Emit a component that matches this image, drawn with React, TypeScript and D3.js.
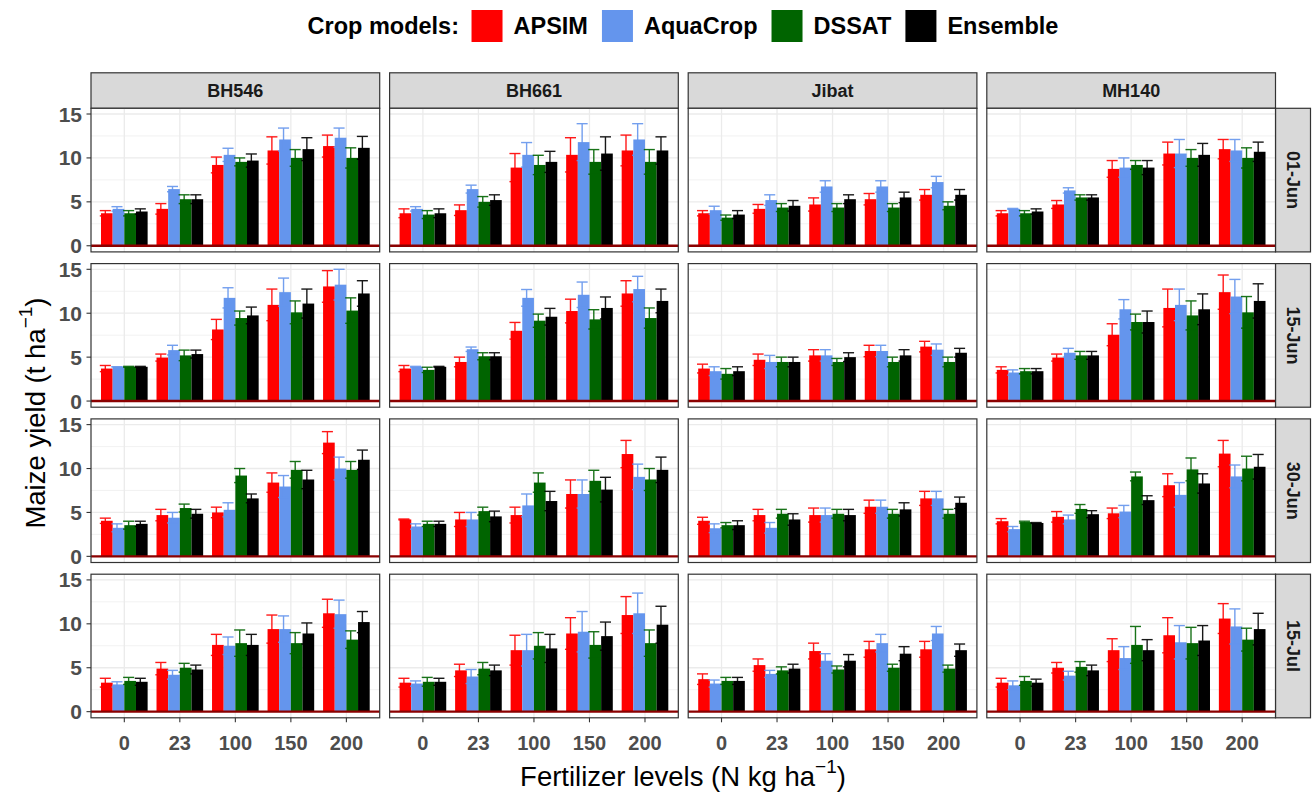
import React from 'react';
import * as d3 from 'd3';

const cultivars = ['BH546', 'BH661', 'Jibat', 'MH140'];
const sowingDates = ['01-Jun', '15-Jun', '30-Jun', '15-Jul'];
const fertLevels = ['0', '23', '100', '150', '200'];
const models = ['APSIM', 'AquaCrop', 'DSSAT', 'Ensemble'];
const modelColors = ['#FF0000', '#6495ED', '#006400', '#000000'];
const yTicks = [0, 5, 10, 15];
const yMinor = [2.5, 7.5, 12.5];

// mean yield [cultivar][fertilizer][model]
const meanJun01 = [
  [[3.7, 4.2, 3.7, 3.9], [4.2, 6.45, 5.3, 5.3], [9.2, 10.35, 9.55, 9.7], [10.85, 12.1, 10.0, 11.0], [11.35, 12.3, 10.0, 11.15]],
  [[3.7, 4.2, 3.55, 3.7], [4.05, 6.45, 5.0, 5.2], [8.9, 10.35, 9.2, 9.55], [10.35, 11.8, 9.55, 10.5], [10.85, 12.1, 9.55, 10.85]],
  [[3.7, 4.05, 3.2, 3.55], [4.2, 5.2, 4.35, 4.55], [4.7, 6.75, 4.35, 5.3], [5.3, 6.75, 4.35, 5.5], [5.8, 7.25, 4.55, 5.8]],
  [[3.7, 4.2, 3.7, 3.9], [4.7, 6.3, 5.5, 5.5], [8.75, 8.9, 9.2, 8.9], [10.5, 10.5, 10.0, 10.35], [11.0, 10.85, 10.0, 10.7]],
];
const errJun01 = [
  [[0.3, 0.25, 0.3, 0.3], [0.6, 0.3, 0.5, 0.5], [0.9, 0.75, 0.45, 0.75], [1.55, 1.3, 0.95, 1.3], [1.25, 1.1, 1.15, 1.3]],
  [[0.5, 0.25, 0.45, 0.5], [0.6, 0.45, 0.6, 0.6], [1.6, 1.4, 1.1, 1.2], [1.95, 2.1, 1.4, 1.9], [1.75, 1.8, 1.4, 1.55]],
  [[0.3, 0.45, 0.3, 0.45], [0.5, 0.6, 0.45, 0.6], [0.75, 0.65, 0.45, 0.5], [0.65, 0.65, 0.45, 0.6], [0.6, 0.65, 0.45, 0.6]],
  [[0.3, 0.05, 0.3, 0.3], [0.45, 0.3, 0.3, 0.3], [0.95, 1.1, 0.5, 0.8], [1.3, 1.6, 0.95, 1.3], [1.1, 1.25, 1.15, 1.1]],
];

const meanJun15 = [
  [[3.7, 3.9, 3.9, 3.9], [4.95, 5.8, 5.2, 5.35], [8.15, 11.75, 9.45, 9.75], [10.95, 12.4, 10.1, 11.1], [13.05, 13.25, 10.3, 12.25]],
  [[3.7, 3.9, 3.55, 3.9], [4.45, 5.9, 5.1, 5.1], [8.0, 11.75, 9.15, 9.6], [10.25, 12.1, 9.3, 10.6], [12.25, 12.75, 9.45, 11.4]],
  [[3.7, 3.4, 3.1, 3.4], [4.7, 4.45, 4.45, 4.45], [5.2, 5.2, 4.45, 5.0], [5.7, 5.7, 4.45, 5.2], [6.2, 5.85, 4.45, 5.5]],
  [[3.55, 3.25, 3.4, 3.4], [4.95, 5.5, 5.2, 5.2], [7.55, 10.45, 9.0, 9.0], [10.6, 10.95, 9.75, 10.45], [12.4, 11.9, 10.1, 11.4]],
];
const errJun15 = [
  [[0.35, 0.0, 0.05, 0.05], [0.4, 0.55, 0.6, 0.45], [1.15, 1.15, 0.8, 0.95], [1.8, 1.6, 1.3, 1.65], [1.8, 1.75, 1.45, 1.45]],
  [[0.35, 0.05, 0.3, 0.05], [0.55, 0.25, 0.4, 0.4], [0.95, 0.95, 0.75, 0.95], [1.35, 1.45, 1.1, 1.25], [1.45, 1.45, 1.15, 1.35]],
  [[0.5, 0.5, 0.6, 0.5], [0.65, 0.75, 0.55, 0.55], [0.65, 0.65, 0.4, 0.5], [0.65, 0.65, 0.55, 0.65], [0.6, 0.65, 0.55, 0.5]],
  [[0.35, 0.3, 0.3, 0.3], [0.4, 0.5, 0.45, 0.45], [1.25, 1.1, 0.9, 1.25], [2.15, 1.8, 1.65, 1.75], [1.95, 1.95, 1.8, 1.95]],
];

const meanJun30 = [
  [[4.05, 3.25, 3.55, 3.7], [4.7, 4.4, 5.5, 4.85], [5.0, 5.3, 9.2, 6.6], [8.4, 7.95, 9.85, 8.75], [12.95, 10.0, 9.85, 11.0]],
  [[4.2, 3.4, 3.7, 3.7], [4.2, 4.2, 5.15, 4.55], [4.7, 5.8, 8.4, 6.3], [7.1, 7.1, 8.6, 7.6], [11.65, 9.05, 8.75, 9.85]],
  [[4.05, 3.2, 3.55, 3.55], [4.7, 3.25, 4.85, 4.2], [4.7, 4.7, 4.85, 4.7], [5.65, 5.65, 4.85, 5.35], [6.6, 6.6, 4.85, 6.1]],
  [[4.0, 3.1, 3.9, 3.8], [4.5, 4.2, 5.4, 4.8], [4.9, 5.1, 9.1, 6.4], [8.1, 7.0, 9.9, 8.3], [11.7, 9.1, 10.0, 10.2]],
];
const errJun30 = [
  [[0.3, 0.45, 0.45, 0.3], [0.65, 0.6, 0.45, 0.5], [0.6, 0.8, 0.8, 0.5], [1.1, 1.25, 0.95, 1.05], [1.25, 1.3, 0.95, 1.1]],
  [[0.05, 0.3, 0.3, 0.3], [0.8, 0.8, 0.45, 0.6], [0.9, 1.3, 1.1, 1.1], [1.6, 1.6, 1.2, 1.4], [1.55, 1.45, 1.25, 1.45]],
  [[0.4, 0.5, 0.3, 0.5], [0.65, 0.6, 0.5, 0.65], [0.8, 0.8, 0.5, 0.65], [0.75, 0.75, 0.5, 0.75], [0.8, 0.8, 0.5, 0.65]],
  [[0.3, 0.3, 0.1, 0.05], [0.6, 0.5, 0.5, 0.4], [0.6, 0.7, 0.5, 0.5], [1.3, 1.4, 1.3, 1.1], [1.5, 1.3, 1.4, 1.4]],
];

const meanJul15 = [
  [[3.3, 3.1, 3.5, 3.4], [4.9, 4.2, 5.0, 4.8], [7.6, 7.5, 7.8, 7.6], [9.4, 9.4, 7.8, 8.9], [11.2, 11.1, 8.2, 10.2]],
  [[3.3, 3.2, 3.4, 3.4], [4.7, 4.0, 4.9, 4.7], [7.0, 7.0, 7.5, 7.2], [8.9, 9.1, 7.6, 8.6], [11.0, 11.2, 7.8, 9.9]],
  [[3.7, 3.2, 3.5, 3.5], [5.3, 4.3, 4.7, 4.9], [6.9, 5.8, 4.8, 5.8], [7.1, 7.8, 5.0, 6.6], [7.1, 8.9, 4.9, 7.0]],
  [[3.3, 3.0, 3.5, 3.3], [5.0, 4.1, 5.1, 4.7], [7.0, 6.1, 7.6, 7.0], [8.7, 7.9, 7.8, 8.1], [10.6, 9.7, 8.2, 9.4]],
];
const errJul15 = [
  [[0.5, 0.3, 0.4, 0.4], [0.7, 0.5, 0.5, 0.5], [1.2, 1.0, 1.5, 1.2], [1.6, 1.5, 1.2, 1.2], [1.6, 1.6, 1.0, 1.2]],
  [[0.5, 0.3, 0.5, 0.4], [0.7, 0.8, 0.7, 0.6], [1.7, 1.8, 1.5, 1.6], [1.8, 2.3, 1.5, 1.6], [2.1, 2.3, 1.5, 2.1]],
  [[0.6, 0.4, 0.4, 0.4], [0.7, 0.4, 0.4, 0.5], [0.9, 0.8, 0.4, 0.7], [0.9, 1.0, 0.4, 0.8], [0.9, 0.8, 0.4, 0.7]],
  [[0.5, 0.5, 0.5, 0.4], [0.6, 0.5, 0.6, 0.6], [1.3, 1.3, 2.1, 1.2], [2.0, 1.9, 1.8, 1.7], [1.7, 2.0, 1.3, 1.8]],
];

const meansByDate = [meanJun01, meanJun15, meanJun30, meanJul15];
const errsByDate = [errJun01, errJun15, errJun30, errJul15];

const FONT = '"Liberation Sans", Arial, sans-serif';
const panelLeft = 91;
const panelW = 288.7;
const colStep = 298.6;
const panelTop = 108.3;
const panelH = 143.6;
const rowStep = 155.3;
const stripH = 35.5;
const rStripW = 35;
const legendFont = 23.5;

function measure(text: string, font: string): number {
  try {
    const ctx = document.createElement('canvas').getContext('2d');
    if (ctx) {
      ctx.font = font;
      return ctx.measureText(text).width;
    }
  } catch (e) {}
  return text.length * 13;
}

export default function App() {
  const x = d3.scalePoint<string>().domain(fertLevels).range([0, panelW]).padding(0.6);
  const step = x.step();
  const dodge = d3.scaleBand<string>().domain(models).range([-0.42 * step, 0.42 * step]);
  const bw = dodge.bandwidth();
  const y = d3.scaleLinear().domain([-0.7, 15.65]).range([panelH, 0]);

  // legend layout
  const lf = `bold ${legendFont}px "Liberation Sans"`;
  const title = 'Crop models:';
  const keyW = 31;
  const keyH = 32;
  const titleW = measure(title, lf);
  const labelWs = models.map((m) => measure(m, lf));
  const gapTitle = 12.5;
  const gapKeyLabel = 11;
  const gapItem = 14;
  let total = titleW + gapTitle;
  labelWs.forEach((w, i) => {
    total += keyW + gapKeyLabel + w + (i < models.length - 1 ? gapItem : 0);
  });
  const legendCenter = 683;
  let cursor = legendCenter - total / 2;
  const titleX = cursor;
  cursor += titleW + gapTitle;
  const items = models.map((m, i) => {
    const k = cursor;
    const l = k + keyW + gapKeyLabel;
    cursor = l + labelWs[i] + gapItem;
    return { key: k, label: l };
  });

  const lastRowBottom = panelTop + 3 * rowStep + panelH;

  return (
    <svg width={1314} height={796} style={{ position: 'absolute', left: 0, top: 0, background: '#fff' }} fontFamily={FONT}>
      <rect x={0} y={0} width={1314} height={796} fill="#fff" />
      {/* Legend */}
      <text x={titleX} y={26} fontSize={legendFont} fontWeight="bold" dominantBaseline="central" fill="#000">{title}</text>
      {models.map((m, i) => (
        <g key={m}>
          <rect x={items[i].key} y={26 - keyH / 2} width={keyW} height={keyH} fill={modelColors[i]} />
          <text x={items[i].label} y={26} fontSize={legendFont} fontWeight="bold" dominantBaseline="central" fill="#000">{m}</text>
        </g>
      ))}

      {/* Column strips */}
      {cultivars.map((c, ci) => {
        const px = panelLeft + ci * colStep;
        return (
          <g key={c}>
            <rect x={px} y={panelTop - stripH} width={panelW} height={stripH} fill="#D9D9D9" stroke="#333333" strokeWidth={1.2} />
            <text x={px + panelW / 2} y={panelTop - stripH / 2} fontSize={18} fontWeight="bold" fill="#1A1A1A" textAnchor="middle" dominantBaseline="central">{c}</text>
          </g>
        );
      })}

      {/* Row strips */}
      {sowingDates.map((d, ri) => {
        const py = panelTop + ri * rowStep;
        const sx = panelLeft + 3 * colStep + panelW;
        return (
          <g key={d}>
            <rect x={sx} y={py} width={rStripW} height={panelH} fill="#D9D9D9" stroke="#333333" strokeWidth={1.2} />
            <text transform={`translate(${sx + rStripW / 2},${py + panelH / 2}) rotate(90)`} fontSize={18} fontWeight="bold" fill="#1A1A1A" textAnchor="middle" dominantBaseline="central">{d}</text>
          </g>
        );
      })}

      {/* Panels */}
      {sowingDates.map((d, ri) =>
        cultivars.map((c, ci) => {
          const px = panelLeft + ci * colStep;
          const py = panelTop + ri * rowStep;
          const means = meansByDate[ri][ci];
          const errs = errsByDate[ri][ci];
          return (
            <g key={d + c} transform={`translate(${px},${py})`}>
              <rect x={0} y={0} width={panelW} height={panelH} fill="#fff" />
              {yMinor.map((t) => (
                <line key={'mn' + t} x1={0} x2={panelW} y1={y(t)} y2={y(t)} stroke="#EFEFEF" strokeWidth={0.8} />
              ))}
              {yTicks.map((t) => (
                <line key={'mj' + t} x1={0} x2={panelW} y1={y(t)} y2={y(t)} stroke="#EBEBEB" strokeWidth={1.3} />
              ))}
              {fertLevels.map((f) => (
                <line key={'gx' + f} x1={x(f)!} x2={x(f)!} y1={0} y2={panelH} stroke="#EBEBEB" strokeWidth={1.3} />
              ))}
              {fertLevels.map((f, fi) =>
                models.map((m, mi) => {
                  const cx = x(f)! + dodge(m)!;
                  const v = means[fi][mi];
                  return (
                    <rect key={f + m} x={cx} y={y(v)} width={bw} height={y(0) - y(v)} fill={modelColors[mi]} />
                  );
                })
              )}
              {fertLevels.map((f, fi) =>
                models.map((m, mi) => {
                  const cx = x(f)! + dodge(m)! + bw / 2 - 1.5;
                  const v = means[fi][mi];
                  const e = errs[fi][mi];
                  const hw = bw / 2 - 0.3;
                  return (
                    <g key={'e' + f + m} stroke={modelColors[mi]} strokeWidth={1.4} opacity={0.9}>
                      <line x1={cx} x2={cx} y1={y(v - e)} y2={y(v + e)} />
                      <line x1={cx - hw} x2={cx + hw} y1={y(v + e)} y2={y(v + e)} />
                      <line x1={cx - hw} x2={cx + hw} y1={y(v - e)} y2={y(v - e)} />
                    </g>
                  );
                })
              )}
              <line x1={0} x2={panelW} y1={y(0)} y2={y(0)} stroke="#8B0000" strokeWidth={2.4} />
              <rect x={0} y={0} width={panelW} height={panelH} fill="none" stroke="#333333" strokeWidth={1.2} />
            </g>
          );
        })
      )}

      {/* Y axis ticks */}
      {sowingDates.map((d, ri) => {
        const py = panelTop + ri * rowStep;
        return (
          <g key={'ya' + d}>
            {yTicks.map((t) => (
              <g key={t}>
                <line x1={panelLeft - 4.5} x2={panelLeft} y1={py + y(t)} y2={py + y(t)} stroke="#333333" strokeWidth={1.1} />
                <text x={panelLeft - 9} y={py + y(t)} fontSize={21} fontWeight="bold" fill="#4D4D4D" textAnchor="end" dominantBaseline="central">{t}</text>
              </g>
            ))}
          </g>
        );
      })}

      {/* X axis ticks */}
      {cultivars.map((c, ci) => {
        const px = panelLeft + ci * colStep;
        return (
          <g key={'xa' + c}>
            {fertLevels.map((f) => (
              <g key={f}>
                <line x1={px + x(f)!} x2={px + x(f)!} y1={lastRowBottom} y2={lastRowBottom + 4.5} stroke="#333333" strokeWidth={1.1} />
                <text x={px + x(f)!} y={lastRowBottom + 25} fontSize={20} fontWeight="bold" fill="#4D4D4D" textAnchor="middle" dominantBaseline="central">{f}</text>
              </g>
            ))}
          </g>
        );
      })}

      {/* Axis titles */}
      <text x={683} y={776} fontSize={27.5} fill="#000" textAnchor="middle" dominantBaseline="central">
        Fertilizer levels (N kg ha<tspan dy={-10} fontSize={19}>−1</tspan><tspan dy={10}>)</tspan>
      </text>
      <text transform={`translate(35,${panelTop + (3 * rowStep + panelH) / 2}) rotate(-90)`} fontSize={27.5} fill="#000" textAnchor="middle" dominantBaseline="central">
        Maize yield (t ha<tspan dy={-10} fontSize={19}>−1</tspan><tspan dy={10}>)</tspan>
      </text>
    </svg>
  );
}
